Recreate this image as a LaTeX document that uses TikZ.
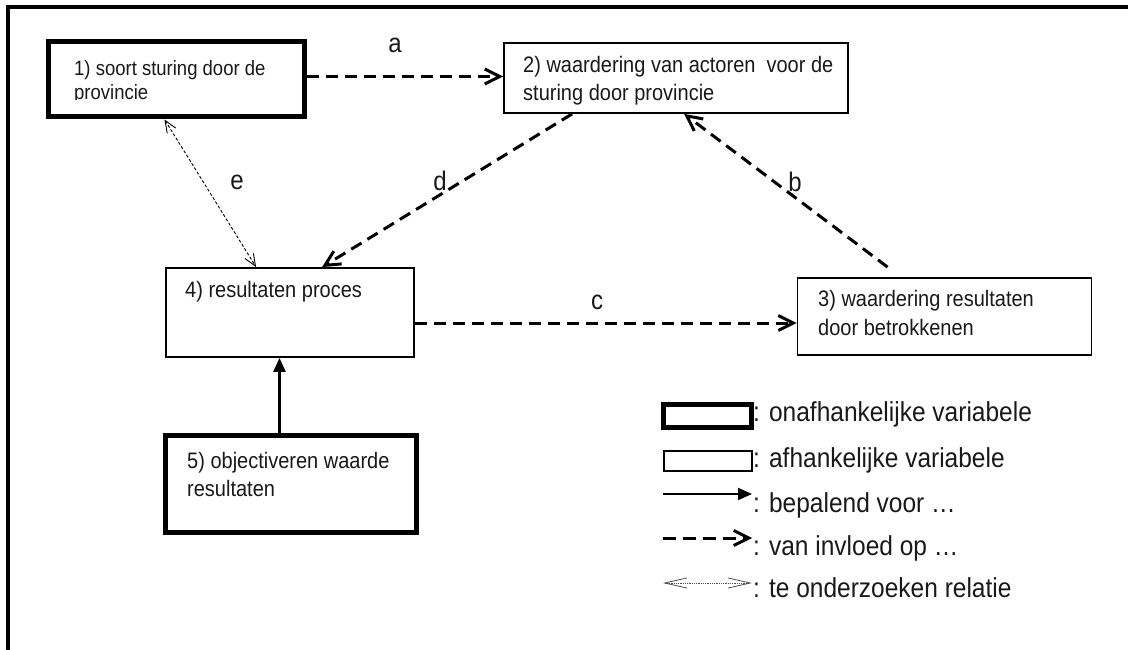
\documentclass[tikz,border=0pt]{standalone}
\usepackage{fontspec}
\usepackage{graphicx}
\setmainfont{Liberation Sans}
\usetikzlibrary{arrows.meta}
\newcommand{\vstr}[1]{\scalebox{1}[1.12]{#1}}
\begin{document}
\begin{tikzpicture}[x=1pt,y=-1pt,
  thinbox/.style={draw=black, line width=1.8pt, rectangle, inner sep=0pt},
  thickbox/.style={draw=black, line width=5pt, rectangle, inner sep=0pt},
  txt/.style={anchor=base west, inner sep=0pt, text=black!90, font=\fontsize{20}{24}\selectfont},
  lbl/.style={inner sep=0pt, text=black!90, font=\fontsize{24}{28}\selectfont},
  legtxt/.style={anchor=base west, inner sep=0pt, text=black!90, font=\fontsize{24.5}{29}\selectfont},
  infl/.style={line width=3pt, dash pattern=on 12pt off 7pt, -{Straight Barb[length=15pt,width=15pt,line width=3pt]}},
  bepaal/.style={line width=2.5pt, -{Triangle[length=14pt,width=12pt]}},
  onderz/.style={line width=0.9pt, dash pattern=on 3pt off 2pt, {Straight Barb[length=12pt,width=10pt,line width=0.9pt]}-{Straight Barb[length=12pt,width=10pt,line width=0.9pt]}},
  legonderz/.style={line width=0.8pt, densely dotted, black!70, {Straight Barb[length=22pt,width=10pt,line width=0.8pt]}-{Straight Barb[length=22pt,width=10pt,line width=0.8pt]}}
]
\useasboundingbox (0,0) rectangle (1128,650);
% frame
\draw[line width=3.5pt] (8,650) -- (8,7) -- (1128,7);

% boxes
\node[thickbox, minimum width=256pt, minimum height=75pt] (b1) at (176,79.5) {};
\node[thinbox, minimum width=344pt, minimum height=70pt] (b2) at (676,78) {};
\node[thinbox, minimum width=294pt, minimum height=77pt] (b3) at (944.5,316.5) {};
\node[thinbox, minimum width=248pt, minimum height=89pt] (b4) at (290,312.5) {};
\node[thickbox, minimum width=251pt, minimum height=97pt] (b5) at (290.5,483.5) {};

% texts
\node[txt, font=\fontsize{18.5}{22}\selectfont] (t1a) at (74,76) {\vstr{1) soort sturing door de}};
\begin{scope}
  \clip (50,44) rectangle (302,100);
  \node[txt, font=\fontsize{18.5}{22}\selectfont] (t1b) at (74,100) {\vstr{provincie}};
\end{scope}
\node[txt] (t2a) at (523,73) {\vstr{2) waardering van actoren\ \ voor de}};
\node[txt] (t2b) at (523,101) {\vstr{sturing door provincie}};
\node[txt] (t3a) at (818,306) {\vstr{3) waardering resultaten}};
\node[txt] (t3b) at (818,335) {\vstr{door betrokkenen}};
\node[txt] (t4) at (185,297) {\vstr{4) resultaten proces}};
\node[txt] (t5a) at (187,468) {\vstr{5) objectiveren waarde}};
\node[txt] (t5b) at (187,496) {\vstr{resultaten}};

% connectors
\draw[infl] ([yshift=3pt]b1.east) -- ([yshift=3pt]b1.east -| b2.west);
\draw[infl] ([xshift=69pt]b2.south west) -- ([xshift=157pt]b4.north west);
\draw[infl] ([shift={(91,-10)}]b3.north west) -- ([xshift=181pt]b2.south west);
\coordinate (c1) at ([yshift=-10.5pt]b4.east);
\draw[infl] (c1) -- (c1 -| b3.west);
\draw[onderz] ([xshift=119pt]b1.south west) -- ([xshift=91pt]b4.north west);
\draw[bepaal] ([xshift=-11pt]b5.north) -- ([xshift=-11pt]b5.north |- b4.south);

% labels
\node[lbl] (la) at (395,45) {\vstr{a}};
\node[lbl] (lb) at (795,182) {\vstr{b}};
\node[lbl] (lc) at (597,302) {\vstr{c}};
\node[lbl] (ld) at (440,181) {\vstr{d}};
\node[lbl] (le) at (237,182) {\vstr{e}};

% legend
\node[thickbox, minimum width=88pt, minimum height=23pt] (k1) at (707.5,416) {};
\node[thinbox, minimum width=88pt, minimum height=20pt] (k2) at (708,461) {};
\coordinate (s1) at (663,494);
\coordinate (s2) at (752,494);
\coordinate (d1) at (663,538);
\coordinate (d2) at (752,538);
\coordinate (o1) at (663,583);
\coordinate (o2) at (752,583);
\draw[bepaal, line width=2pt] (s1) -- (s2);
\draw[infl, dash pattern=on 13pt off 7pt] (d1) -- (d2);
\draw[legonderz] (o1) -- (o2);
\node[legtxt] (g1) at (753,421) {\vstr{: onafhankelijke variabele}};
\node[legtxt] (g2) at (753,467) {\vstr{: afhankelijke variabele}};
\node[legtxt] (g3) at (753,512) {\vstr{: bepalend voor \dots}};
\node[legtxt] (g4) at (753,555) {\vstr{: van invloed op \dots}};
\node[legtxt] (g5) at (753,597) {\vstr{: te onderzoeken relatie}};
\end{tikzpicture}
\end{document}
